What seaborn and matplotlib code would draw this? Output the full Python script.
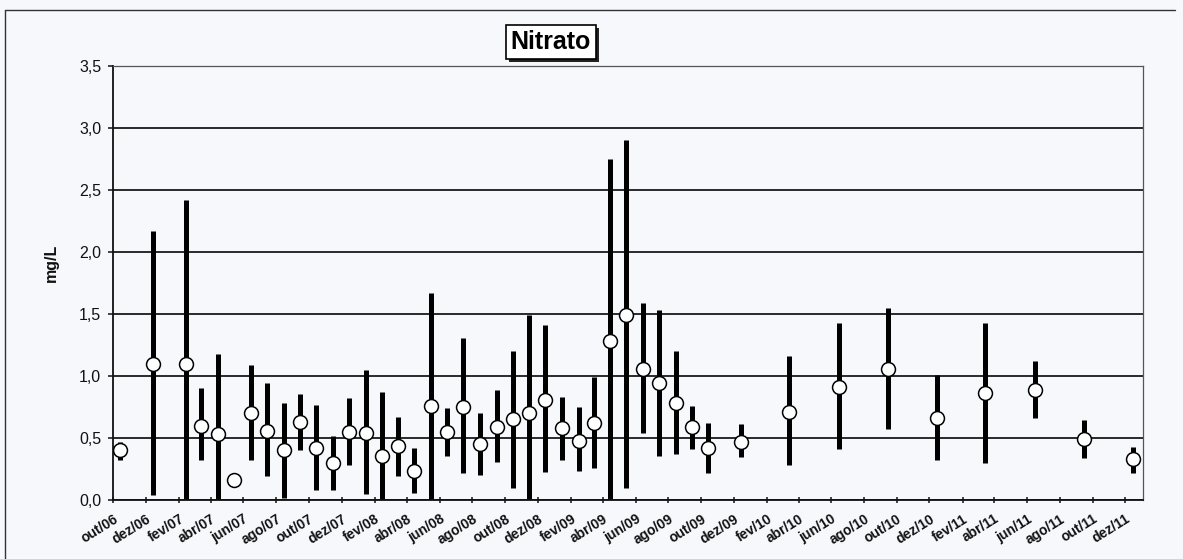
import numpy as np
import pandas as pd
import matplotlib
matplotlib.use("Agg")
import matplotlib.pyplot as plt
from matplotlib.ticker import FuncFormatter
from matplotlib.lines import Line2D
from matplotlib.patches import Rectangle
import seaborn as sns

# Sampling months (year-month)
months = [
    '2006-10', '2006-12', '2007-02', '2007-03', '2007-04', '2007-05',
    '2007-06', '2007-07', '2007-08', '2007-09', '2007-10', '2007-11',
    '2007-12', '2008-01', '2008-02', '2008-03', '2008-04', '2008-05',
    '2008-06', '2008-07', '2008-08', '2008-09', '2008-10', '2008-11',
    '2008-12', '2009-01', '2009-02', '2009-03', '2009-04', '2009-05',
    '2009-06', '2009-07', '2009-08', '2009-09', '2009-10', '2009-12',
    '2010-03', '2010-06', '2010-09', '2010-12', '2011-03', '2011-06',
    '2011-09', '2011-12',
]
# Nitrato, mg/L
nit_min = [
    0.32, 0.04, 0.00, 0.32, 0.00, 0.13,
    0.32, 0.19, 0.02, 0.40, 0.08, 0.08,
    0.28, 0.045, 0.00, 0.19, 0.06, 0.00,
    0.355, 0.22, 0.20, 0.31, 0.10, 0.00,
    0.23, 0.32, 0.235, 0.255, 0.00, 0.095,
    0.54, 0.355, 0.375, 0.41, 0.215, 0.345,
    0.28, 0.41, 0.57, 0.32, 0.30, 0.66,
    0.335, 0.22,
]
nit_mean = [
    0.40, 1.10, 1.10, 0.60, 0.53, 0.16,
    0.70, 0.56, 0.40, 0.63, 0.42, 0.30,
    0.55, 0.54, 0.355, 0.435, 0.235, 0.76,
    0.55, 0.75, 0.45, 0.59, 0.65, 0.70,
    0.81, 0.58, 0.48, 0.625, 1.28, 1.49,
    1.06, 0.94, 0.785, 0.585, 0.42, 0.47,
    0.71, 0.915, 1.06, 0.66, 0.865, 0.89,
    0.49, 0.33,
]
nit_max = [
    0.47, 2.17, 2.42, 0.90, 1.18, 0.20,
    1.09, 0.94, 0.78, 0.855, 0.77, 0.52,
    0.82, 1.05, 0.87, 0.67, 0.42, 1.67,
    0.74, 1.31, 0.70, 0.89, 1.20, 1.49,
    1.41, 0.83, 0.75, 0.99, 2.75, 2.90,
    1.59, 1.53, 1.20, 0.76, 0.625, 0.615,
    1.16, 1.43, 1.55, 1.01, 1.43, 1.12,
    0.645, 0.43,
]
pt_months = ['jan', 'fev', 'mar', 'abr', 'mai', 'jun',
             'jul', 'ago', 'set', 'out', 'nov', 'dez']
y_ticks = [0.0, 0.5, 1.0, 1.5, 2.0, 2.5, 3.0, 3.5]

# samples plotted mid-month on a date axis
dates = pd.to_datetime([m + '-15' for m in months])
df = pd.DataFrame({'data': dates, 'id': range(len(dates)),
                   'min': nit_min, 'media': nit_mean, 'max': nit_max})
ranges = df.melt(id_vars=['data', 'id'], value_vars=['min', 'max'], value_name='mg')

sns.set_style("white")
plt.rcParams['font.family'] = ['Liberation Sans', 'DejaVu Sans']
bg = '#f6f8fc'

fig, ax = plt.subplots(figsize=(11.83, 5.59), dpi=100)
fig.patch.set_facecolor(bg)
ax.set_facecolor(bg)
fig.subplots_adjust(left=0.0955, right=0.9662, bottom=0.1055, top=0.8819)

# min-max bars
sns.lineplot(data=ranges, x='data', y='mg', units='id', estimator=None,
             color='black', lw=3.6, solid_capstyle='butt', legend=False,
             ax=ax, zorder=2)
# mean
sns.scatterplot(data=df, x='data', y='media', marker='o', s=100,
                color='white', edgecolor='black', linewidth=1.1,
                legend=False, ax=ax, zorder=3)

ax.set_xlim(pd.Timestamp('2006-10-01'), pd.Timestamp('2012-01-03'))
ax.set_ylim(0, 3.5)
ax.set_yticks(y_ticks)
ax.yaxis.set_major_formatter(FuncFormatter(lambda v, p: f"{v:.1f}".replace('.', ',')))

# every second month, labelled in Portuguese
tick_dates = pd.date_range('2006-10-01', '2011-12-01', freq='2MS')
tick_labels = [f"{pt_months[d.month - 1]}/{d.year % 100:02d}" for d in tick_dates]
ax.set_xticks(tick_dates, tick_labels, rotation=32, ha='right', va='top',
              rotation_mode='anchor', fontweight='bold', fontsize=10)

ax.grid(axis='y', color='#1a1a1a', lw=1.3)
ax.grid(axis='x', visible=False)
ax.set_axisbelow(True)

ax.tick_params(axis='y', direction='out', length=3.5, width=1.1, pad=5,
               labelsize=11.5, left=True, colors='#111111')
ax.tick_params(axis='x', direction='inout', length=5, width=1.1, pad=6,
               bottom=True, colors='#111111')

for s in ['left', 'bottom']:
    ax.spines[s].set_color('#111111')
    ax.spines[s].set_linewidth(1.3)
for s in ['right', 'top']:
    ax.spines[s].set_color('#555555')
    ax.spines[s].set_linewidth(0.9)

ax.set_xlabel('')
ax.set_ylabel('mg/L', fontsize=11.5, fontweight='bold', color='#111111')
ax.yaxis.set_label_coords(-0.053, 0.546)

# boxed title with a drop shadow
title = fig.text(0.4658, 0.924, 'Nitrato', fontsize=18, fontweight='bold',
                 color='black', ha='center', va='center', zorder=5,
                 bbox=dict(boxstyle='square,pad=0.2', fc='white', ec='black', lw=1.2))
fig.canvas.draw()
bb = title.get_bbox_patch().get_window_extent().transformed(fig.transFigure.inverted())
fig.add_artist(Rectangle((bb.x0 + 3 / 1183, bb.y0 - 3 / 559), bb.width, bb.height,
                         transform=fig.transFigure, fc='#222222', ec='none', zorder=4))

# outer chart border (top and left)
fig.add_artist(Line2D([5 / 1183, 1175 / 1183], [1 - 10 / 559, 1 - 10 / 559],
                      color='#333333', lw=1.0))
fig.add_artist(Line2D([5 / 1183, 5 / 1183], [0, 1 - 10 / 559],
                      color='#333333', lw=1.0))

fig.savefig('out.png', dpi=100, facecolor=bg)
